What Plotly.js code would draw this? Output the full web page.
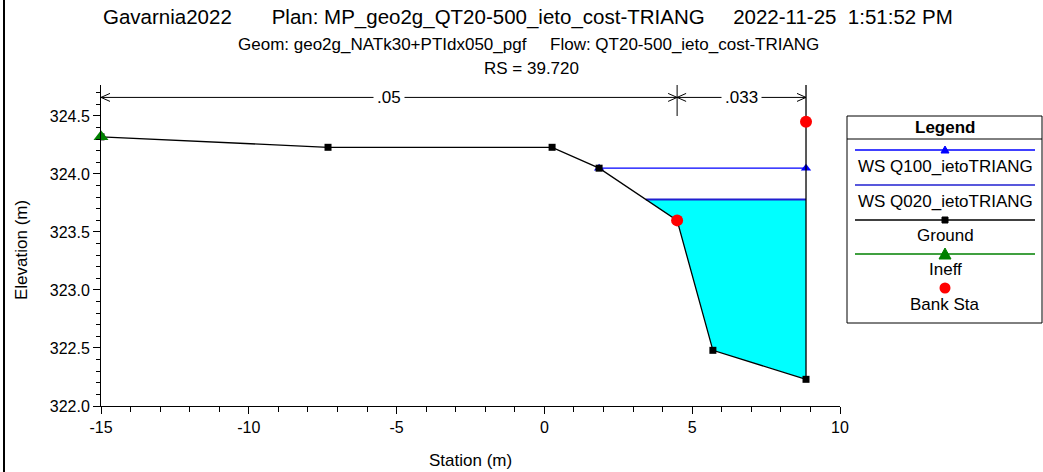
<!DOCTYPE html>
<html>
<head>
<meta charset="utf-8">
<script src="https://cdn.plot.ly/plotly-3.0.1.min.js"></script>
<style>html,body{margin:0;padding:0;background:#fff;}#chart{width:1043px;height:472px;}</style>
</head>
<body>
<div id="chart"></div>
<script>
// ---- data ----
const groundX = [-15, -7.32, 0.26, 1.85, 4.49, 5.70, 8.85, 8.85, 8.85];
const groundY = [324.32, 324.23, 324.23, 324.05, 323.60, 322.48, 322.23, 324.45, 325.60];
const ws100X = [1.85, 8.85];
const ws100Y = [324.05, 324.05];
const ws020X = [3.43, 8.85];
const ws020Y = [323.78, 323.78];
const ineffX = [-15];
const ineffY = [324.32];
const bankX = [4.49, 8.85];
const bankY = [323.60, 324.45];
const nValues = ['.05', '.033'];
const nBounds = [-15, 4.49, 8.85];
const nLevel = 324.66;
const xTickVals = [-15, -10, -5, 0, 5, 10];
const xTickText = ['-15', '-10', '-5', '0', '5', '10'];
const yTickVals = [322.0, 322.5, 323.0, 323.5, 324.0, 324.5];
const yTickText = ['322.0', '322.5', '323.0', '323.5', '324.0', '324.5'];
const legendNames = ['WS Q100_ietoTRIANG', 'WS Q020_ietoTRIANG', 'Ground', 'Ineff', 'Bank Sta'];
const NB = '\u00a0';
const titleLine1 = 'Gavarnia2022' + NB.repeat(7) + 'Plan: MP_geo2g_QT20-500_ieto_cost-TRIANG' + NB.repeat(5) + '2022-11-25' + NB.repeat(2) + '1:51:52 PM';
const titleLine2 = 'Geom: geo2g_NATk30+PTIdx050_pgf' + NB.repeat(5) + 'Flow: QT20-500_ieto_cost-TRIANG';
const titleLine3 = 'RS = 39.720';

// ---- fill polygon for Q020 water (derived from ground & WS) ----
const fillX = [ws020X[0]];
const fillY = [ws020Y[0]];
for (let i = 0; i < groundX.length; i++) {
  if (groundX[i] > ws020X[0] && groundX[i] <= ws020X[1] && groundY[i] < ws020Y[0]) {
    fillX.push(groundX[i]); fillY.push(groundY[i]);
  }
}
fillX.push(ws020X[1]); fillY.push(ws020Y[1]);

// ---- layout geometry ----
const W = 1043, H = 472, L = 101, R = 840, T = 85, B = 406;
const pxX = p => (p - L) / (R - L);
const pxY = p => (B - p) / (B - T);
const FONT = 'Liberation Sans, Arial, sans-serif';

const traces = [
  {x: fillX, y: fillY, mode: 'none', fill: 'toself', fillcolor: '#00ffff', hoverinfo: 'skip'},
  {x: ws020X, y: ws020Y, mode: 'lines', line: {color: '#2020d0', width: 2}, name: legendNames[1]},
  {x: ws100X, y: ws100Y, mode: 'lines+markers', line: {color: '#0000ff', width: 1.3},
   marker: {symbol: 'triangle-up', size: 9, color: '#0000ff'}, name: legendNames[0]},
  {x: groundX, y: groundY, mode: 'lines+markers', line: {color: '#000', width: 1.3},
   marker: {symbol: 'square', size: 7, color: '#000'}, name: legendNames[2]},
  {x: ineffX, y: ineffY, mode: 'markers', marker: {symbol: 'triangle-up', size: 13, color: '#008000'}, name: legendNames[3], cliponaxis: false},
  {x: bankX, y: bankY, mode: 'markers', marker: {symbol: 'circle', size: 12, color: '#ff0000'}, name: legendNames[4]}
];

const shapes = [];
const annotations = [];
const txt = (x, y, text, size, extra) => annotations.push(Object.assign({xref: 'paper', yref: 'paper', x: pxX(x), y: pxY(y), text: text,
  showarrow: false, xanchor: 'center', yanchor: 'middle', font: {family: FONT, size: size, color: '#000'}}, extra || {}));

// n-value dimension lines
for (let i = 0; i < nValues.length; i++) {
  shapes.push({type: 'line', xref: 'x', yref: 'y', x0: nBounds[i], x1: nBounds[i + 1], y0: nLevel, y1: nLevel,
               line: {color: '#000', width: 1}});
  annotations.push({xref: 'x', yref: 'y', x: (nBounds[i] + nBounds[i + 1]) / 2, y: nLevel, text: nValues[i],
                    xanchor: 'center', yanchor: 'middle',
                    showarrow: false, bgcolor: '#fff', borderpad: 3, font: {family: FONT, size: 17, color: '#000'}});
}
nBounds.forEach((b, i) => {
  if (i > 0) shapes.push({type: 'path', xref: 'x', yref: 'y', xsizemode: 'pixel', ysizemode: 'pixel', xanchor: b, yanchor: nLevel,
                          path: 'M -9 4 L 0 0 L -9 -4', line: {color: '#000', width: 1}});
  if (i < nBounds.length - 1) shapes.push({type: 'path', xref: 'x', yref: 'y', xsizemode: 'pixel', ysizemode: 'pixel', xanchor: b, yanchor: nLevel,
                          path: 'M 9 4 L 0 0 L 9 -4', line: {color: '#000', width: 1}});
});
shapes.push({type: 'line', xref: 'x', yref: 'paper', x0: nBounds[1], x1: nBounds[1], y0: 1, y1: pxY(116), line: {color: '#000', width: 1}});

// left page border
shapes.push({type: 'line', xref: 'paper', yref: 'paper', x0: pxX(4), x1: pxX(4), y0: pxY(H), y1: pxY(0), line: {color: '#000', width: 2}});

// legend box
const LX0 = 847, LX1 = 1042, LY0 = 116, LY1 = 323, LC = 945;
shapes.push({type: 'rect', xref: 'paper', yref: 'paper', x0: pxX(LX0), x1: pxX(LX1), y0: pxY(LY0), y1: pxY(LY1),
             line: {color: '#000', width: 1}, fillcolor: 'rgba(0,0,0,0)'});
shapes.push({type: 'line', xref: 'paper', yref: 'paper', x0: pxX(LX0), x1: pxX(LX1), y0: pxY(139), y1: pxY(139), line: {color: '#000', width: 1}});
txt(LC, 127, '<b>Legend</b>', 17);
const legLineY = [150, 185, 220, 254, null];
const legTextY = [166, 201, 235, 269, 304];
const legColors = ['#0000ff', '#2020d0', '#000', '#008000', null];
for (let i = 0; i < legendNames.length; i++) {
  if (legLineY[i] !== null) shapes.push({type: 'line', xref: 'paper', yref: 'paper', x0: pxX(855), x1: pxX(1035),
       y0: pxY(legLineY[i]), y1: pxY(legLineY[i]), line: {color: legColors[i], width: 1.3}});
  txt(LC, legTextY[i], legendNames[i], 17);
}
const mk = (py, path, color) => shapes.push({type: 'path', xref: 'paper', yref: 'paper', xsizemode: 'pixel', ysizemode: 'pixel',
                                   xanchor: pxX(LC), yanchor: pxY(py), path: path, fillcolor: color, line: {color: color, width: 1}});
mk(150, 'M -4 -3 L 4 -3 L 0 4 Z', '#0000ff');
mk(220, 'M -3 -3 L 3 -3 L 3 3 L -3 3 Z', '#000');
mk(254, 'M -6 -5 L 6 -5 L 0 6 Z', '#008000');
shapes.push({type: 'circle', xref: 'paper', yref: 'paper', xsizemode: 'pixel', ysizemode: 'pixel', xanchor: pxX(LC), yanchor: pxY(288),
             x0: -5.5, x1: 5.5, y0: -5.5, y1: 5.5, fillcolor: '#ff0000', line: {color: '#ff0000', width: 0}});

// titles
txt(528, 17, titleLine1, 20.5);
txt(528, 44, titleLine2, 17);
txt(531, 68, titleLine3, 17);
txt(22, 250, 'Elevation (m)', 17, {textangle: -90});
txt(470, 461, 'Station (m)', 17);

const layout = {
  width: W, height: H,
  margin: {l: L, r: W - R, t: T, b: H - B, pad: 0},
  paper_bgcolor: '#fff', plot_bgcolor: '#fff',
  showlegend: false,
  font: {family: FONT, size: 16, color: '#000'},
  xaxis: {range: [-15, 10], tickvals: xTickVals, ticktext: xTickText, showgrid: false, zeroline: false,
          showline: true, linecolor: '#000', linewidth: 1, ticks: 'outside', ticklen: 7, tickcolor: '#000',
          minor: {dtick: 1, tick0: -15, ticks: 'outside', ticklen: 5, tickcolor: '#000', showgrid: false},
          tickfont: {family: FONT, size: 16}, fixedrange: true},
  yaxis: {range: [322, 324.767], tickvals: yTickVals, ticktext: yTickText, showgrid: false, zeroline: false,
          showline: true, linecolor: '#000', linewidth: 1, ticks: 'outside', ticklen: 7, tickcolor: '#000',
          minor: {dtick: 0.1, tick0: 322, ticks: 'outside', ticklen: 4, tickcolor: '#000', showgrid: false},
          tickfont: {family: FONT, size: 16}, fixedrange: true},
  shapes: shapes,
  annotations: annotations
};

Plotly.newPlot('chart', traces, layout, {displayModeBar: false, staticPlot: true});
</script>
</body>
</html>
